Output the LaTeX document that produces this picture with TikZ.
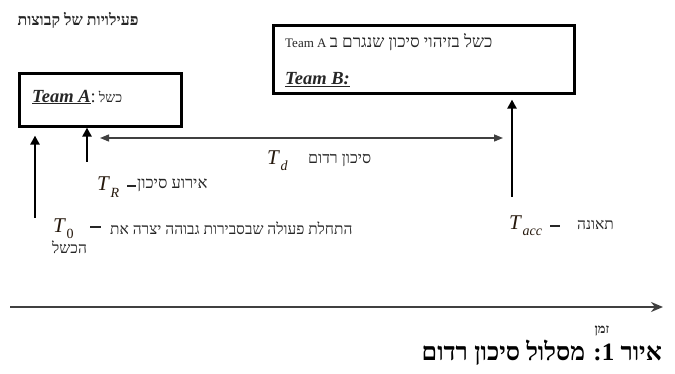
\documentclass[tikz,border=0pt]{standalone}
\usepackage{fontspec}
\setmainfont{Liberation Serif}
\newfontfamily\heb[Script=Hebrew]{Liberation Serif}
\TeXXeTstate=1
\usetikzlibrary{arrows.meta}
% time-point symbol: italic T with a lowered index
\newcommand\tmark[1]{\textit{T}\kern0.6pt\raisebox{-0.3em}{\fontsize{14}{15}\selectfont\textit{#1}}}

\begin{document}
\begin{tikzpicture}[x=1pt,y=-1pt,
  box/.style={draw=black, line width=2.6pt, inner sep=0pt, anchor=north west},
  upar/.style={line width=2.8pt, -{Triangle[length=9pt,width=9pt]}},
  spanar/.style={line width=1.4pt, draw=black!75, {Triangle[length=9pt,width=7pt]}-{Triangle[length=9pt,width=7pt]}},
  axisar/.style={line width=2.4pt, draw=black!75, -{Stealth[length=12pt,width=10pt]}},
  lbl/.style={inner sep=0pt, text=black!85},
  hebl/.style={lbl, font=\heb\fontsize{15.5}{18}\selectfont},
  mathl/.style={lbl, text=black!80!brown, font=\fontsize{21}{24}\selectfont},
  dashl/.style={lbl, anchor=west},
  teaml/.style={lbl, font=\bfseries\itshape\fontsize{18.5}{22}\selectfont},
]
\useasboundingbox (0,0) rectangle (675,374);

% group heading
\node[lbl, font=\heb\bfseries\fontsize{16}{18}\selectfont] (title) at (78,20) {\beginR פעילויות של קבוצות\endR};

% team boxes
\node[box, minimum width=162pt, minimum height=53pt] (boxA) at (18,72) {};
\node[box, minimum width=301pt, minimum height=68pt] (boxB) at (272,24) {};

\node[teaml, anchor=west] (txtA) at (32,97) {\underline{Team A}\upshape\mdseries:\,{\heb\fontsize{14}{16}\selectfont כשל}};
\node[lbl, anchor=west, font=\fontsize{13}{16}\selectfont] (txtB1) at (285,42) {\heb\beginR{\fontsize{17}{18}\selectfont כשל בזיהוי סיכון שנגרם ב} \beginL Team A\endL\endR};
\node[teaml, anchor=west] (txtB2) at (285,80) {\underline{Team B:}};

% event markers
\coordinate (zeroBase) at (35,218);
\coordinate (riskBase) at (87,162);
\coordinate (accBase) at (512,197);
\draw[upar] (zeroBase) -- ([yshift=-8pt]zeroBase |- boxA.south);
\draw[upar] (riskBase) -- (riskBase |- boxA.south);
\draw[upar] (accBase) -- ([yshift=-5pt]accBase |- boxB.south);

% dormant-risk interval
\coordinate (spanL) at (100,138);
\coordinate (spanR) at (503,138);
\draw[spanar] (spanL) -- (spanR);

% time axis
\coordinate (tStart) at (10,307);
\coordinate (tEnd) at (663,307);
\draw[axisar] (tStart) -- (tEnd);

% labels
\node[mathl, anchor=west] (Td) at (267,161) {\tmark{d}};
\node[hebl, anchor=west, font=\heb\fontsize{16}{18}\selectfont] (TdTxt) at (308,160) {\beginR סיכון רדום\endR};

\node[mathl, anchor=west] (TR) at (97,187) {\tmark{R}};
\node[dashl] (TRdash) at (127,186) {\rule{9pt}{1.6pt}};
\node[hebl, anchor=west, font=\heb\fontsize{16.5}{18}\selectfont] (TRTxt) at (137,185) {\beginR אירוע סיכון\endR};

\node[mathl, anchor=west] (T0) at (53,229) {\tmark{\upshape 0}};
\node[dashl] (T0dash) at (90,227) {\rule{11pt}{1.6pt}};
\node[hebl, anchor=west] (T0Txt) at (110,228) {\beginR התחלת פעולה שבסבירות גבוהה יצרה את\endR};
\node[hebl, anchor=west] (T0Txt2) at (52,247) {\beginR הכשל\endR};

\node[mathl, anchor=west] (Tacc) at (509,226) {\tmark{acc}};
\node[dashl] (Taccdash) at (550,226) {\rule{10pt}{1.6pt}};
\node[hebl, anchor=west] (TaccTxt) at (577,225) {\beginR תאונה\endR};

\node[lbl, font=\heb\bfseries\fontsize{13}{14}\selectfont] (timeTxt) at (602,331) {\beginR זמן\endR};

% caption
\node[lbl, text=black, font=\heb\bfseries\fontsize{25}{28}\selectfont, anchor=east] (caption) at (662,353) {\beginR איור 1: מסלול סיכון רדום\endR};
\end{tikzpicture}
\end{document}
